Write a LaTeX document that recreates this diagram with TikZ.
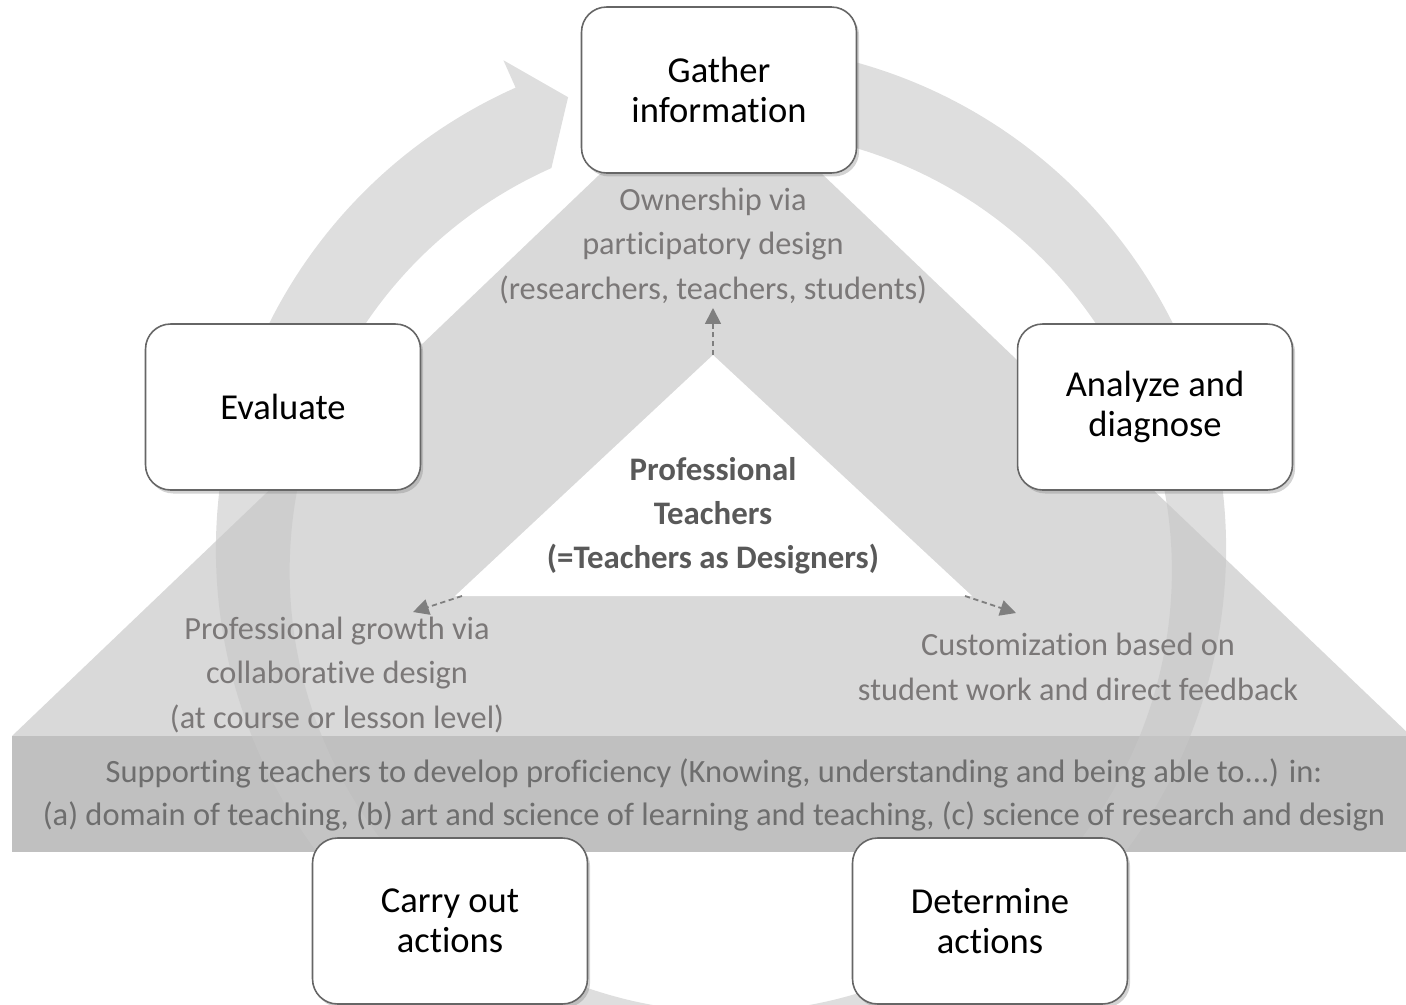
\documentclass[tikz,border=0pt]{standalone}
\usepackage{fontspec}
\setmainfont{Carlito}[Ligatures=NoCommon]
\usetikzlibrary{shadows,arrows.meta}

\definecolor{trigray}{HTML}{D9D9D9}
\definecolor{bandgray}{HTML}{C0C0C0}
\definecolor{ringgray}{HTML}{C8C8C8}
\definecolor{txtgray}{HTML}{7B7878}
\definecolor{bandtext}{HTML}{6E6E6E}
\definecolor{boldgray}{HTML}{595959}
\definecolor{boxline}{HTML}{666666}
\definecolor{linkgray}{HTML}{7F7F7F}

\tikzset{
    stage/.style={draw=boxline, line width=0.9pt, fill=white, rounded corners=0.5cm,
        minimum width=5.5cm, minimum height=3.32cm, align=center,
        font=\fontsize{20.8}{22.8}\selectfont,
        drop shadow={shadow xshift=1.5pt, shadow yshift=-2pt, opacity=0.35}},
    note/.style={align=center, text=txtgray, font=\fontsize{18.4}{25.6}\selectfont},
    link/.style={draw=linkgray, line width=1pt, dash pattern=on 3pt off 2pt,
        -{Triangle[length=9pt, width=9pt]}},
}

\begin{document}
\begin{tikzpicture}[x=0.02cm, y=-0.02cm]
    \useasboundingbox (0,0) rectangle (1406,1004);
    \coordinate (T) at (711,68);
    \coordinate (L) at (12,736);
    \coordinate (R) at (1411,736);
    \fill[trigray] (L) -- (T) -- (R) -- cycle;
    \fill[bandgray] (12,736) rectangle (1406,852);
    % cycle arrow
    \begin{scope}[shift={(721,549)}]
        \fill[ringgray, opacity=0.6] (-80:505) arc[start angle=-80, end angle=246, radius=505]
            -- (246:535) -- (251.3:477) -- (246:417)
            arc[start angle=246, end angle=-80, radius=441] -- cycle;
    \end{scope}
    \node[note, text=bandtext, font=\fontsize{18.5}{24.5}\selectfont] (support) at (714,795)
        {Supporting teachers to develop proficiency (Knowing, understanding and being able to...) in:\\
         (a) domain of teaching, (b) art and science of learning and teaching, (c) science of research and design};
    % inner white triangle
    \coordinate (P) at (713,355);
    \coordinate (Q) at (455,596);
    \coordinate (S) at (972,596);
    \fill[white] (P) -- (Q) -- (S) -- cycle;
    \node[font=\bfseries\fontsize{18.7}{25}\selectfont, text=boldgray, align=center] (core) at (713,516)
        {Professional\\Teachers\\(=Teachers as Designers)};
    \node[note] (own) at (713,246) {Ownership via\\participatory design\\(researchers, teachers, students)};
    \node[note] (growth) at (337,675) {Professional growth via\\collaborative design\\(at course or lesson level)};
    \node[note] (custom) at (1078,667) {Customization based on\\student work and direct feedback};
    \coordinate (upTip) at (713,308);
    \coordinate (leftTip) at (413,612);
    \coordinate (rightTip) at (1016,613);
    \draw[link] (P) -- (upTip);
    \draw[link] (462,596) -- (leftTip);
    \draw[link] (965,596) -- (rightTip);
    \node[stage] (gather) at (719,90) {Gather\\information};
    \node[stage] (analyze) at (1155,407) {Analyze and\\diagnose};
    \node[stage] (determine) at (990,921) {Determine\\actions};
    \node[stage] (carry) at (450,921) {Carry out\\actions};
    \node[stage] (evaluate) at (283,407) {Evaluate};
\end{tikzpicture}
\end{document}
